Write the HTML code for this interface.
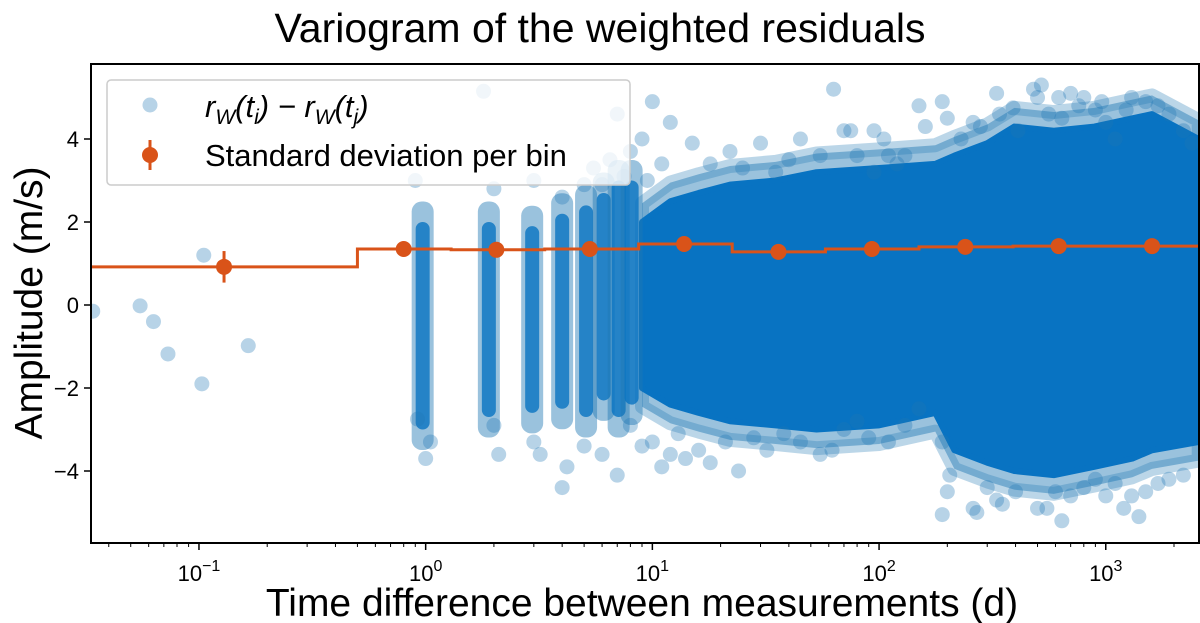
<!DOCTYPE html>
<html><head><meta charset="utf-8"><style>
body{margin:0;background:#fff;}
svg{display:block;font-family:"Liberation Sans","DejaVu Sans",sans-serif;}
</style></head><body>
<svg id="chart" width="1200" height="623" viewBox="0 0 1200 623">
<text x="600" y="42" font-size="41" text-anchor="middle">Variogram of the weighted residuals</text>
<g id="plot"></g>
<text x="642" y="616" font-size="39" text-anchor="middle">Time difference between measurements (d)</text>
<text transform="translate(42,303) rotate(-90)" font-size="39" text-anchor="middle">Amplitude (m/s)</text>
</svg>
<script>
// ---- data ----
const binEdges = [0.0334, 0.5, 1.295, 3.35, 8.7, 22.5, 58, 150, 390, 1010, 2570];
const binStd = [0.92, 1.35, 1.33, 1.35, 1.47, 1.28, 1.35, 1.40, 1.42, 1.42];
const binCenters = [0.129, 0.80, 2.05, 5.3, 13.8, 36, 93, 240, 620, 1600];
const binErr = [0.38, 0.02, 0.02, 0.02, 0.02, 0.02, 0.02, 0.02, 0.02, 0.02];
const colX = [0.97, 1.9, 2.95, 4.0, 5.1, 6.1, 7.1, 8.1];
const colLo = [-3.3, -3.0, -2.9, -2.8, -3.0, -2.6, -3.0, -2.7];
const colHi = [2.3, 2.3, 2.2, 2.5, 2.7, 3.0, 3.3, 3.3];
const coreX = [9, 12, 16, 22, 35, 53, 100, 177, 215, 300, 395, 590, 890, 1310, 1600, 2570];
const coreLo = [-2.0, -2.4, -2.6, -2.8, -2.9, -3.0, -2.9, -2.6, -3.5, -3.8, -4.0, -4.1, -3.9, -3.7, -3.5, -3.3];
const coreHi = [2.0, 2.5, 2.7, 2.9, 3.0, 3.2, 3.3, 3.4, 3.6, 3.9, 4.3, 4.2, 4.3, 4.5, 4.6, 4.0];
const ptX = [0.034,0.055,0.063,0.073,0.103,0.105,0.165,
150,160,190,200,230,260,280,330,340,390,410,480,500,520,560,620,640,700,760,800,900,960,1000,1100,1230,1300,1500,1700,1900,2200,2400,
12,15,18,22,25,30,35,40,45,55,63,70,75,80,95,105,110,120,95,130,
5.5,7,6.5,8,9,10,11,9.5,6,7.5,1.8,3,4,5,2.0,0.9,
1.0,0.92,1.05,2.0,2.1,3.0,3.2,4,4.2,5,6,7,8,9,10,11,12,13,14,16,18,21,24,28,32,38,45,55,62,70,80,90,110,130,150,
190,200,205,190,260,270,300,330,350,400,500,550,600,640,700,800,900,1000,1100,1200,1300,1400,1500,1700,1900,2200];
const ptY = [-0.15,-0.02,-0.4,-1.18,-1.9,1.2,-0.98,
4.8,4.3,4.9,4.5,4.0,4.4,4.3,5.1,4.6,4.75,4.2,5.2,5.0,5.3,4.6,5.0,4.5,5.1,4.8,5.0,4.7,4.9,4.4,4.0,4.7,5.0,4.9,4.8,4.6,4.2,3.9,
4.4,3.9,3.4,3.7,3.3,3.9,3.2,3.5,4.0,3.6,5.2,4.2,4.2,3.6,4.2,4.0,3.6,3.4,3.2,3.6,
3.3,4.6,3.5,3.7,4.0,4.9,3.4,3.0,2.9,3.1,5.15,3.0,2.6,2.9,2.8,3.0,
-3.7,-2.75,-3.3,-2.9,-3.6,-3.3,-3.6,-4.4,-3.9,-3.4,-3.6,-4.1,-2.9,-3.4,-3.3,-3.9,-3.6,-3.1,-3.7,-3.5,-3.8,-3.3,-4.0,-3.2,-3.5,-3.1,-3.3,-3.6,-3.5,-3.0,-2.8,-3.2,-3.3,-2.9,-2.5,
-3.3,-4.5,-4.1,-5.05,-4.9,-5.0,-4.4,-4.7,-4.8,-4.5,-4.9,-4.9,-4.5,-5.2,-4.6,-4.4,-4.2,-4.6,-4.3,-4.9,-4.6,-5.1,-4.5,-4.3,-4.2,-4.1];
const yTicks = [-4, -2, 0, 2, 4];
const xDecades = [-1, 0, 1, 2, 3];

// ---- axes ----
const L=91,R=1199,T=64,B=543, PXD=226.7, LXMIN=Math.log10(0.0334);
const X=v=>L+(Math.log10(v)-LXMIN)*PXD;
const Y=v=>305-41.5*v;
const NS='http://www.w3.org/2000/svg';
const plot=document.getElementById('plot');
function mk(tag,attrs,parent){const e=document.createElementNS(NS,tag);for(const k in attrs)e.setAttribute(k,attrs[k]);(parent||plot).appendChild(e);return e;}

const clip=mk('clipPath',{id:'pc'});mk('rect',{x:L,y:T,width:R-L,height:B-T},clip);
const data=mk('g',{'clip-path':'url(#pc)'});



function envPts(dh,dl){
  let p=[];
  coreX.forEach((x,i)=>p.push(X(x)+','+Y(coreHi[i]+dh)));
  for(let i=coreX.length-1;i>=0;i--)p.push(X(coreX[i])+','+Y(coreLo[i]-dl));
  return p.join(' ');
}
// halo
const halo=mk('polygon',{points:envPts(0.45,0.45),fill:'#1f77b4','fill-opacity':0.45,stroke:'#1f77b4','stroke-opacity':0.3,'stroke-width':14,'stroke-linejoin':'round'},data);


const core=mk('polygon',{points:envPts(0,0),fill:'#0873c2',stroke:'#0873c2','stroke-width':6,'stroke-linejoin':'round'},data);



// columns
colX.forEach((x,i)=>{
  const r=mk('rect',{x:X(x)-11,y:Y(colHi[i])-8,width:22,height:Y(colLo[i])-Y(colHi[i])+16,rx:10,fill:'#1f77b4','fill-opacity':0.45},data);
  
  
  const r2=mk('rect',{x:X(x)-7,y:Y(colHi[i]-0.3),width:14,height:Y(colLo[i]+0.3)-Y(colHi[i]-0.3),rx:7,fill:'#0873c2','fill-opacity':0.8},data);
  
  
});
// points
ptX.forEach((x,i)=>{
  const c=mk('circle',{cx:X(x),cy:Y(ptY[i]),r:7.5,fill:'#1f77b4','fill-opacity':0.32},data);
  
  
});
// step line
let d='';
binStd.forEach((v,i)=>{d+=(i?'L':'M')+X(binEdges[i])+','+Y(v)+'L'+X(binEdges[i+1])+','+Y(v);});
const step=mk('path',{d:d,fill:'none',stroke:'#d95319','stroke-width':3},data);


binCenters.forEach((x,i)=>{
  const g=mk('g',{},data);
  
  
  mk('line',{x1:X(x),x2:X(x),y1:Y(binStd[i]+binErr[i]),y2:Y(binStd[i]-binErr[i]),stroke:'#d95319','stroke-width':3},g);
  mk('circle',{cx:X(x),cy:Y(binStd[i]),r:8,fill:'#d95319'},g);
});

// frame
const fr=mk('rect',{x:L,y:T,width:R-L,height:B-T,fill:'none',stroke:'#000','stroke-width':2});


// y ticks
yTicks.forEach(v=>{
  mk('line',{x1:L-7,x2:L,y1:Y(v),y2:Y(v),stroke:'#000','stroke-width':1.5});
  const t=mk('text',{x:L-12,y:Y(v)+8,'font-size':22,'text-anchor':'end'});
  t.textContent=(v<0?'\u2212'+(-v):String(v));
  
  
});
// x ticks
for(let dcd=-2;dcd<=3;dcd++){
  for(let m=1;m<10;m++){
    const v=m*Math.pow(10,dcd);const px=X(v);
    if(px<L-0.5||px>R+0.5)continue;
    mk('line',{x1:px,x2:px,y1:B,y2:B+(m===1?7:4),stroke:'#000','stroke-width':m===1?1.5:1});
  }
}
xDecades.forEach(e=>{
  const t=mk('text',{x:X(Math.pow(10,e)),y:B+38,'font-size':22,'text-anchor':'middle'});
  
  
  t.textContent='10';
  const s=mk('tspan',{dy:-10,'font-size':16},t);s.textContent=(e<0?'\u2212'+(-e):String(e));
});

// legend
const lg=mk('g',{});


mk('rect',{x:107,y:80,width:523,height:105,rx:4,fill:'#fff','fill-opacity':0.8,stroke:'#ccc','stroke-width':1.5},lg);
mk('circle',{cx:150,cy:105,r:7.5,fill:'#1f77b4','fill-opacity':0.32},lg);
const t1=mk('text',{x:205,y:117,'font-size':31,'font-style':'italic'},lg);


t1.innerHTML='r<tspan font-size="21" dy="7">W</tspan><tspan dy="-7">(t</tspan><tspan font-size="21" dy="7">i</tspan><tspan dy="-7">) \u2212 r</tspan><tspan font-size="21" dy="7">W</tspan><tspan dy="-7">(t</tspan><tspan font-size="21" dy="7">j</tspan><tspan dy="-7">)</tspan>';
mk('line',{x1:150,x2:150,y1:140,y2:170,stroke:'#d95319','stroke-width':3},lg);
mk('circle',{cx:150,cy:155,r:8,fill:'#d95319'},lg);
const t2=mk('text',{x:205,y:166,'font-size':31},lg);


t2.textContent='Standard deviation per bin';
</script>
</body></html>
